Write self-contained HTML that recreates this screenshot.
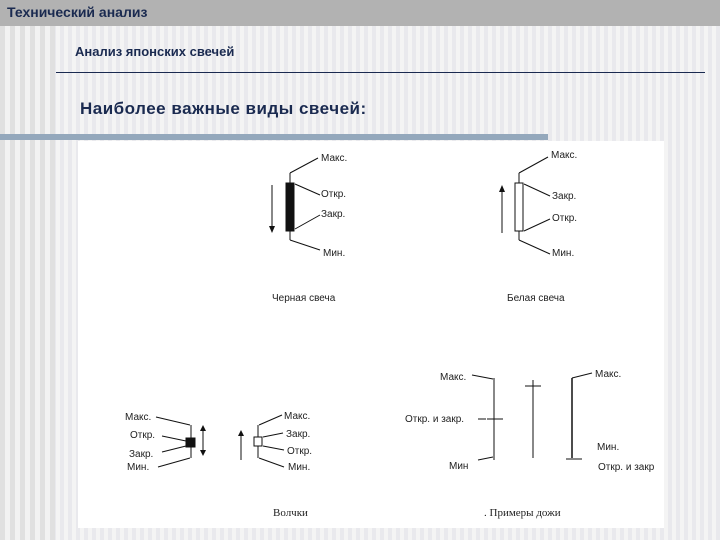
<!DOCTYPE html>
<html><head><meta charset="utf-8"><style>
html,body{margin:0;padding:0;width:720px;height:540px;overflow:hidden}
body{background:repeating-linear-gradient(90deg,#f4f4f4 0 4px,#e9e9ed 4px 8px);position:relative;font-family:"Liberation Sans",sans-serif}
.hdr{position:absolute;left:0;top:0;width:720px;height:26px;background:#b2b2b2}
.hdr span{position:absolute;left:7px;top:4px;font-size:14px;font-weight:bold;color:#1a2a50}
.left{position:absolute;left:0;top:26px;width:55px;height:514px;background:repeating-linear-gradient(90deg,#e0e0e0 0 5px,#f2f2f2 5px 10px)}
.t1{position:absolute;left:75px;top:44px;font-size:13px;font-weight:bold;color:#1a2a50}
.line{position:absolute;left:56px;top:72px;width:649px;height:1px;background:#1a2a50}
.t2{position:absolute;left:80px;top:99px;font-size:17px;font-weight:bold;color:#1a2a50;letter-spacing:0.5px}
.bar{position:absolute;left:0;top:134px;width:548px;height:6px;background:#94a8bc}
.img{position:absolute;left:78px;top:141px;width:586px;height:387px;background:#fff}
</style></head><body>
<div class="hdr"><span>Технический анализ</span></div>
<div class="left"></div>
<div class="t1">Анализ японских свечей</div>
<div class="line"></div>
<div class="t2">Наиболее важные виды свечей:</div>
<div class="bar"></div>
<div class="img"></div>
<svg width="720" height="540" style="position:absolute;left:0;top:0" font-family="Liberation Sans,sans-serif" font-size="10" fill="#222">
<g stroke="#111" stroke-width="1" fill="none">
<!-- black candle -->
<line x1="290" y1="173" x2="290" y2="240"/>
<rect x="286" y="183" width="8" height="48" fill="#111"/>
<line x1="272" y1="185" x2="272" y2="228"/>
<line x1="290" y1="173" x2="318" y2="158"/>
<line x1="295" y1="184" x2="320" y2="195"/>
<line x1="295" y1="229" x2="320" y2="215"/>
<line x1="290" y1="240" x2="320" y2="250"/>
<!-- white candle -->
<line x1="519" y1="173" x2="519" y2="240"/>
<rect x="515" y="183" width="8" height="48" fill="#fff"/>
<line x1="502" y1="190" x2="502" y2="233"/>
<line x1="519" y1="173" x2="548" y2="157"/>
<line x1="524" y1="184" x2="550" y2="196"/>
<line x1="524" y1="231" x2="550" y2="219"/>
<line x1="519" y1="240" x2="550" y2="254"/>
<!-- black spinning top -->
<line x1="191" y1="425" x2="191" y2="458"/>
<rect x="186" y="438" width="9" height="9" fill="#111"/>
<line x1="203" y1="429" x2="203" y2="452"/>
<line x1="156" y1="417" x2="190" y2="425"/>
<line x1="162" y1="436" x2="186" y2="441"/>
<line x1="162" y1="452" x2="186" y2="446"/>
<line x1="158" y1="467" x2="190" y2="458"/>
<!-- white spinning top -->
<line x1="258" y1="425" x2="258" y2="458"/>
<rect x="254" y="437" width="8" height="9" fill="#fff"/>
<line x1="241" y1="434" x2="241" y2="460"/>
<line x1="259" y1="425" x2="282" y2="415"/>
<line x1="263" y1="437" x2="283" y2="433"/>
<line x1="263" y1="446" x2="284" y2="450"/>
<line x1="259" y1="458" x2="284" y2="467"/>
<!-- doji -->
<line x1="494" y1="378" x2="494" y2="460"/>
<line x1="487" y1="419" x2="503" y2="419"/>
<line x1="472" y1="375" x2="493" y2="379"/>
<line x1="478" y1="460" x2="493" y2="457"/>
<line x1="478" y1="419" x2="486" y2="419"/>
<line x1="533" y1="380" x2="533" y2="458"/>
<line x1="525" y1="386" x2="541" y2="386"/>
<line x1="572" y1="378" x2="572" y2="458" stroke-width="1.5"/>
<line x1="566" y1="459" x2="582" y2="459"/>
<line x1="572" y1="378" x2="592" y2="373"/>
</g>
<g fill="#111">
<polygon points="269,226 275,226 272,233"/>
<polygon points="499,192 505,192 502,185"/>
<polygon points="200,450 206,450 203,456"/>
<polygon points="238,436 244,436 241,430"/>
<polygon points="200,431 206,431 203,425"/>
</g>
<text x="321" y="161">Макс.</text>
<text x="321" y="197">Откр.</text>
<text x="321" y="217">Закр.</text>
<text x="323" y="256">Мин.</text>
<text x="551" y="158">Макс.</text>
<text x="552" y="199">Закр.</text>
<text x="552" y="221">Откр.</text>
<text x="552" y="256">Мин.</text>
<text x="272" y="301">Черная свеча</text>
<text x="507" y="301">Белая свеча</text>
<text x="125" y="420">Макс.</text>
<text x="130" y="438">Откр.</text>
<text x="129" y="457">Закр.</text>
<text x="127" y="470">Мин.</text>
<text x="284" y="419">Макс.</text>
<text x="286" y="437">Закр.</text>
<text x="287" y="454">Откр.</text>
<text x="288" y="470">Мин.</text>
<text x="440" y="380">Макс.</text>
<text x="405" y="422">Откр. и закр.</text>
<text x="449" y="469">Мин</text>
<text x="595" y="377">Макс.</text>
<text x="597" y="450">Мин.</text>
<text x="598" y="470">Откр. и закр</text>
<text x="273" y="516" font-family="Liberation Serif,serif" font-size="11">Волчки</text>
<text x="484" y="516" font-family="Liberation Serif,serif" font-size="11">. Примеры дожи</text>
</svg>
</body></html>
